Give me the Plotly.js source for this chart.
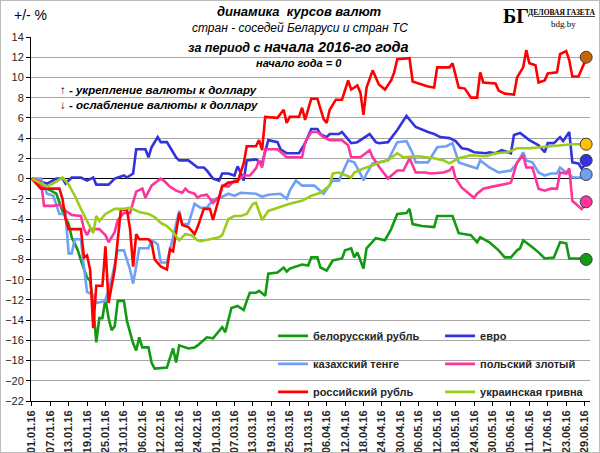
<!DOCTYPE html>
<html>
<head>
<meta charset="utf-8">
<script src="https://cdn.plot.ly/plotly-3.0.1.min.js"></script>
<style>
html,body{margin:0;padding:0;background:#fff;}
#wrap{position:relative;width:600px;height:453px;}
#chart{width:600px;height:453px;}
#frame{position:absolute;left:0;top:0;width:598px;height:451px;border:1px solid #BDBDBD;pointer-events:none;}
</style>
</head>
<body>
<div id="wrap"><div id="chart"></div><div id="frame"></div></div>
<script>
// ---- data (days since 01.01.2016, % change vs start of year) ----
const seriesNames = ['белорусский рубль','евро','казахский тенге','польский злотый','российский рубль','украинская гривна'];

const byrDays = [0,5,8,10,12,13,15,16,18,19,20,21,22,23,24,25,26,27,28,30,31,33,34,35,36,38,39,40,44,46,47,48,51,53,54,57,59,61,62,63,65,67,69,70,71,73,74,76,77,80,82,83,84,88,90,91,93,94,96,98,101,102,104,105,106,108,109,112,115,117,119,122,123,124,127,131,132,137,139,143,145,146,149,152,154,156,158,159,160,163,165,167,170,172,174,175,180];
const byrVals = [0,-1,-1.5,-3.2,-4.5,-5.8,-7.1,-8.1,-9.8,-10.1,-12.5,-16.2,-13.8,-13.8,-11.9,-13.8,-15,-14.6,-12.1,-12.1,-14.1,-16.3,-17,-15.7,-16.7,-16.7,-18.2,-18.8,-18.7,-16.8,-18.2,-16.5,-16.8,-16.7,-16.5,-15.7,-15.8,-15,-14.7,-15.2,-12.8,-12.6,-13,-12.1,-11.3,-11.3,-11.1,-11.6,-9.4,-9.3,-8.8,-9.2,-8.9,-8.5,-8.6,-7.8,-7.8,-8.8,-9.1,-8.1,-7.9,-7.1,-6.9,-7.8,-7.3,-8.9,-6.9,-5.9,-6.1,-5,-3.5,-3.4,-3.0,-4.5,-4.7,-4.8,-3.7,-3.7,-5.4,-5.6,-6.3,-5.8,-6.3,-7.1,-7.8,-7.8,-7.1,-6.9,-6.1,-6.8,-7.3,-7.9,-7.8,-6.3,-6.4,-7.9,-7.9];

const eurDays = [0,5,8,10,11,13,16,18,20,21,25,27,30,31,33,34,37,38,39,41,42,44,46,47,48,51,54,56,57,59,61,62,64,66,67,68,69,70,73,75,77,80,81,83,87,89,91,93,94,96,97,100,101,104,106,110,112,113,116,117,119,122,124,125,129,131,133,136,138,140,142,144,148,149,151,153,156,157,159,162,165,167,168,170,172,173,175,176,178,179,180];
const eurVals = [0,-0.5,0,0,-0.5,0.1,0.1,-0.2,0.1,-0.6,-0.6,0,0.3,0.1,0.5,2.9,2.9,2.1,3.1,4.1,3.6,3.6,2.6,2.1,1.8,1.8,1.1,1.1,0.8,0,-0.2,0.5,0.5,0.3,1.2,0.6,-0.2,1.8,1.9,1.5,3.8,3.6,2.9,2.5,2.5,3.5,4.9,4.9,4.4,4.1,4.4,4.4,4.6,3.5,3.6,4.4,3.6,3.5,3.6,4.0,4.8,6.2,5.4,5.1,4.6,4.4,4.1,4.0,3.7,3.0,2.9,2.6,2.5,2.6,2.5,2.8,2.5,4.3,4.5,3.8,3.3,2.6,3.5,3.5,4.1,3.7,4.6,1.6,1.5,1.0,1.3];

const kztDays = [0,3,5,7,9,11,12,13,14,16,17,18,20,21,24,26,28,30,32,33,35,38,39,41,42,44,46,48,49,51,53,55,57,59,62,64,66,68,73,75,77,81,83,84,86,88,92,94,95,98,100,103,105,107,108,109,111,113,116,118,119,122,124,125,129,132,135,137,139,142,145,146,149,152,156,158,160,161,163,165,167,169,171,172,174,175,176,180];
const kztVals = [0,0,-1.5,-1.7,-3.5,-3.5,-7.4,-7.4,-6,-6,-8.8,-11.2,-11.5,-12.3,-12.1,-9.9,-7.1,-7.1,-9,-10.4,-6.9,-6.9,-6.1,-6.5,-8.3,-8.3,-5.8,-3.2,-4.5,-4.5,-2.5,-2.9,-2.9,-2.1,-1.8,-1.5,-1.7,-1.4,-1.5,-1.8,-1.6,-1.5,-2.0,-1.2,-0.2,-0.7,-0.7,-1.3,-1.5,-0.2,-0.2,1.8,1.6,0.5,-0.2,0.5,1.5,1.6,1.8,3.0,3.6,3.7,2.5,1.6,1.6,3.1,3.2,3.5,1.6,1.3,1.0,1.8,1.1,0.6,0.8,1.5,2.6,1.8,1.6,0.6,0.3,0.5,0.5,1.1,0.6,0.5,0.1,0.1];

const plnDays = [0,3,4,7,9,10,11,13,16,17,18,19,22,24,25,27,28,30,32,34,36,37,39,42,43,45,47,49,50,51,53,54,55,57,59,61,62,64,66,67,69,71,73,74,75,76,80,83,88,89,91,93,95,97,101,103,104,107,110,111,113,116,119,121,123,125,128,130,134,136,137,138,140,142,144,145,147,150,152,155,156,158,160,161,163,165,167,169,171,172,174,175,176,178,179,180];
const plnVals = [0,-0.3,-2.7,-2.7,-2.6,-2.8,-3.2,-3.6,-3.7,-5,-5.6,-5.0,-5.0,-5.6,-6.3,-5.3,-4.1,-3.4,-3.4,-1.3,-1.0,-1.9,-0.7,0,-0.2,-0.8,-1.2,-1.4,-1.0,-1.3,-1.5,-1.9,-1.7,-1.6,-2.4,-1.8,-0.7,-0.8,-0.2,-0.2,0.3,0.3,1.0,1.8,1.1,2.9,2.9,2.1,2.1,3.6,4.6,4.6,4.1,3.8,3.8,3.3,2.1,2.1,2.8,2.1,1.2,0,0.8,0.8,2.0,0.6,0.6,0.5,0.6,0.8,1.2,0,-0.9,-1.4,-1.9,-1.5,-1.0,-0.8,-0.7,-0.5,-0.4,1.6,2.3,1.1,1.1,-1.0,-1.2,-1.0,-1.0,0.6,0.5,1.0,-2.2,-2.7,-3.0,-2.7];

const rubDays = [0,3,9,10,11,12,16,17,18,19,20,21,23,24,25,27,29,31,32,33,34,35,38,39,40,42,44,45,46,48,49,51,53,54,56,58,59,61,62,64,67,69,70,73,74,75,76,80,82,83,84,87,88,89,90,91,93,95,96,97,99,101,103,104,106,107,108,109,111,113,115,117,118,119,123,124,126,129,131,132,136,137,139,141,143,145,146,147,151,152,154,157,158,160,161,162,164,165,167,168,171,172,174,175,176,178,180];
const rubVals = [0,-1,-1,-2,-4,-5,-5,-7.8,-7.6,-9,-14.8,-10.6,-10.6,-6.7,-12.3,-9,-3.1,-3.1,-5,-8.7,-5.5,-6,-6,-6.3,-8,-8.7,-9,-7,-7.2,-3.4,-4.6,-4.8,-5.5,-4.8,-3,-3,-4.1,-1.7,-0.8,-0.4,-0.3,1.5,3.2,3.2,3.8,2.8,6.1,6.0,6.8,5.5,6.1,6.1,7.0,5.8,7.0,7.9,7.9,5.9,5.5,6.8,7.8,7.8,9.7,8.8,9.2,8.5,6.3,9.0,10.7,9.3,8.8,9.7,10.5,11.8,11.9,9.6,9.4,9.1,9.0,11.0,11.0,11.4,9.0,8.9,8.0,8.0,10.5,9.5,9.4,8.7,8.4,8.3,10.0,11.0,12.7,11.4,11.2,9.5,9.7,10.4,10.5,12.3,12.6,11.7,10.1,10.1,11.5];

const uahDays = [0,5,8,10,12,14,16,18,20,21,22,24,27,30,32,35,38,40,42,44,46,48,50,52,54,55,58,61,62,64,66,68,70,72,73,75,77,81,84,88,91,94,97,98,100,104,105,108,111,113,116,119,121,126,131,134,136,139,143,148,151,155,158,162,165,171,176,180];
const uahVals = [0,-0.8,-0.3,0.1,-0.6,-1.7,-3.0,-4.2,-5.4,-3.7,-4.2,-3.5,-3.0,-3.0,-2.9,-3.3,-3.5,-3.8,-4.4,-4.7,-5.3,-6.1,-5.5,-5.6,-6.1,-6.2,-6.0,-5.8,-5.6,-4.0,-3.7,-3.7,-3.5,-2.5,-2.4,-4.1,-3.2,-2.8,-2.5,-2.2,-1.7,-1.4,-0.7,0.5,0.6,0.1,0.6,1.0,1.3,1.6,1.8,2.5,2.1,2.2,2.0,1.8,1.5,2.0,2.3,2.2,2.5,2.6,3.0,3.0,3.1,3.3,3.4,3.4];

// end-of-period dots (order: RUB, UAH, EUR, KZT, PLN, BYR)
const endDay = 180.5;
const endVals = [12.0, 3.4, 1.8, 0.4, -2.3, -8.0];

const yTickVals = [14,12,10,8,6,4,2,0,-2,-4,-6,-8,-10,-12,-14,-16,-18,-20,-22];

// ---- styles ----
const FONT = 'Liberation Sans, Arial, sans-serif';
const SERIF = 'Liberation Serif, serif';
const colors = {byr:'#129A12', eur:'#3333DD', kzt:'#6EA0F5', pln:'#FF3399', rub:'#FF0000', uah:'#9ACD1A'};
const endColors = ['#C8640A','#FFC000','#3333DD','#6EA0F5','#FF3399','#129A12'];

const DAY_MS = 86400000;
function dayToDate(d){
  return new Date(Date.UTC(2016,0,1) + d*DAY_MS).toISOString().slice(0,19).replace('T',' ');
}
function line(days, vals, name, color, legendId){
  return {type:'scatter', mode:'lines', x:days.map(dayToDate), y:vals, name:name,
    line:{color:color, width:2.6}, legend:legendId, hoverinfo:'skip'};
}

const traces = [
  line(byrDays, byrVals, seriesNames[0], colors.byr, 'legend'),
  line(eurDays, eurVals, seriesNames[1], colors.eur, 'legend'),
  line(kztDays, kztVals, seriesNames[2], colors.kzt, 'legend2'),
  line(plnDays, plnVals, seriesNames[3], colors.pln, 'legend2'),
  line(uahDays, uahVals, seriesNames[5], colors.uah, 'legend3'),
  line(rubDays, rubVals, seriesNames[4], colors.rub, 'legend3'),
  {type:'scatter', mode:'markers', x:endVals.map(()=>dayToDate(endDay)), y:endVals, showlegend:false,
   marker:{size:12, color:endColors, line:{color:'#404040', width:1}}, hoverinfo:'skip', cliponaxis:false}
];
// keep legend order: rub before uah in its row
traces.splice(4, 2, traces[5], traces[4]);

const legFont = {family:FONT, size:11, weight:'bold', color:'#262626'};
function leg(y){
  return {orientation:'h', x:0.433, xanchor:'left', y:y, yanchor:'middle', bgcolor:'rgba(0,0,0,0)',
    font:legFont, entrywidth:122, entrywidthmode:'pixels', itemwidth:30, traceorder:'normal'};
}

const tFont = (size, weight, style) => ({family:FONT, size:size, weight:weight, style:style, color:'#000'});
const annotations = [
  {text:'+/- %', x:-0.034, y:1.0604, xanchor:'left', yanchor:'middle', font:{family:FONT, size:14, color:'#000'}},
  {text:'динамика  курсов валют', x:0.48, y:1.0687, font:tFont(13,'bold','italic')},
  {text:'стран - соседей Беларуси и стран ТС', x:0.481, y:1.0247, font:tFont(12,'normal','italic')},
  {text:'за период с <span style="font-size:14.5px">начала 2016-го года</span>', x:0.478, y:0.9725, font:tFont(12.5,'bold','italic')},
  {text:'начало года = 0', x:0.48, y:0.9286, font:tFont(11,'bold','italic')},
  {text:'↑ - укрепление валюты к доллару', x:0.048, y:0.854, xanchor:'left', font:tFont(11.5,'bold','italic')},
  {text:'↓ - ослабление валюты к доллару', x:0.048, y:0.813, xanchor:'left', font:tFont(11.5,'bold','italic')},
  {text:'БГ', x:0.894, y:1.059, xanchor:'right', font:{family:SERIF, size:20, weight:'bold', color:'#000'}},
  {text:'<u>ДЕЛОВАЯ ГАЗЕТА</u>', x:1.0125, y:1.068, xanchor:'right', font:{family:SERIF, size:7.5, weight:'bold', color:'#000'}},
  {text:'bdg.by', x:0.952, y:1.037, font:{family:SERIF, size:9, color:'#000'}}
].map(a => Object.assign({xref:'paper', yref:'paper', showarrow:false, xanchor:'center', yanchor:'middle'}, a));

const layout = {
  width:600, height:453,
  margin:{l:31, r:10, t:37, b:52, pad:0, autoexpand:false},
  paper_bgcolor:'#fff', plot_bgcolor:'#fff',
  showlegend:true,
  legend:leg(0.179), legend2:leg(0.102), legend3:leg(0.025),
  xaxis:{type:'date', range:[dayToDate(-0.25), dayToDate(181.75)], tick0:'2016-01-01', dtick:6*DAY_MS,
    tickformat:'%d.%m.%y', tickangle:-90, showgrid:false, zeroline:false,
    showline:true, linecolor:'#000', linewidth:1, ticks:'outside', ticklen:4, tickcolor:'#000',
    tickfont:{family:FONT, size:11, weight:'bold', color:'#262626'}, fixedrange:true, automargin:false},
  yaxis:{range:[-22,14], tickvals:yTickVals, showgrid:true, gridcolor:'#A6A6A6', gridwidth:1,
    zeroline:true, zerolinecolor:'#000', zerolinewidth:1,
    showline:true, linecolor:'#000', linewidth:1, ticks:'outside', ticklen:4, tickcolor:'#000',
    tickfont:{family:FONT, size:11, color:'#262626'}, fixedrange:true, automargin:false},
  annotations:annotations
};

Plotly.newPlot('chart', traces, layout, {staticPlot:true, displayModeBar:false});
</script>
</body>
</html>
